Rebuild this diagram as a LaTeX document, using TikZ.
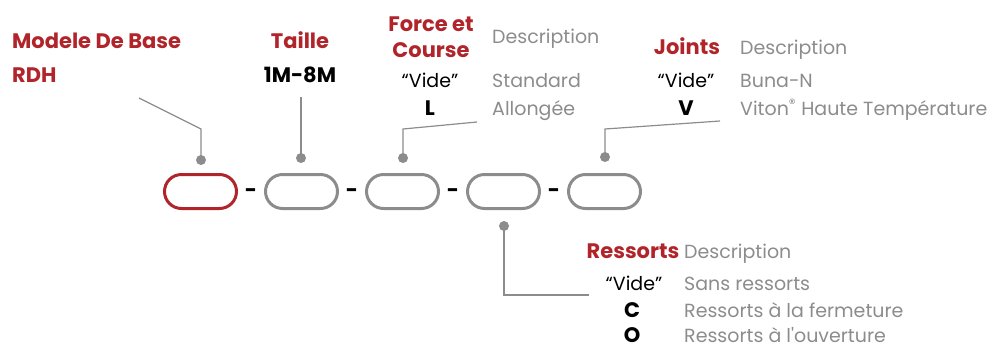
\documentclass[tikz,border=0pt]{standalone}
\usepackage{fontspec}
\setmainfont{Poppins}[Ligatures=TeXOff]
\usetikzlibrary{positioning, calc, shapes}
\definecolor{rouge}{HTML}{B0242A}
\definecolor{gris}{HTML}{8C8C8E}
\tikzset{
    pill/.style={draw=gris, line width=3pt, rounded corners=17pt, minimum width=72pt, minimum height=34pt, inner sep=0pt},
    titre/.style={text=rouge, font=\bfseries\fontsize{21}{26}\selectfont, inner sep=0pt, align=center},
    code/.style={font=\fontsize{19}{22}\selectfont, inner sep=0pt, anchor=base},
    codeb/.style={font=\bfseries\fontsize{21}{22}\selectfont, inner sep=0pt, anchor=base},
    desc/.style={text=gris, font=\fontsize{19}{22}\selectfont, inner sep=0pt, anchor=base west},
    point/.style={circle, fill=gris, inner sep=0pt, minimum size=10pt},
    trait/.style={gris, line width=1.2pt},
    tiret/.style={font=\bfseries\fontsize{21}{22}\selectfont, inner sep=0pt}
}
\begin{document}
\begin{tikzpicture}[x=1pt, y=-1pt]
    \useasboundingbox (0,0) rectangle (995,349);
    % les cases
    \node[pill, draw=rouge] (P1) at (200.5,191.5) {};
    \node[pill, right=26pt of P1] (P2) {};
    \node[pill, right=26pt of P2] (P3) {};
    \node[pill, right=26pt of P3] (P4) {};
    \node[pill, right=26pt of P4] (P5) {};
    \node[tiret] at ($(P1.east)!0.5!(P2.west)+(0,2)$) {-};
    \node[tiret] at ($(P2.east)!0.5!(P3.west)+(0,2)$) {-};
    \node[tiret] at ($(P3.east)!0.5!(P4.west)+(0,2)$) {-};
    \node[tiret] at ($(P4.east)!0.5!(P5.west)+(0,2)$) {-};
    % modele
    \node[titre, anchor=base west] (T1) at (12,48) {Modele De Base};
    \node[titre, anchor=base west] (R1) at (12,82) {RDH};
    % taille
    \node[titre, anchor=base] (T2) at (300,48) {Taille};
    \node[codeb] (R2) at (300,82) {1M-8M};
    % force et course
    \node[titre, anchor=base] (T3) at (431,31) {Force et};
    \node[titre, anchor=base] (T3b) at (431,57) {Course};
    \node[desc] (D3) at (492,43) {Description};
    \node[code] (V3) at (430,87) {“Vide”};
    \node[desc] (S3) at (492,87) {Standard};
    \node[codeb] (L3) at (430,115) {L};
    \node[desc] (A3) at (492,115) {Allongée};
    % joints
    \node[titre, anchor=base] (T5) at (687,54) {Joints};
    \node[desc] (D5) at (740,54) {Description};
    \node[code] (V5) at (686,87) {“Vide”};
    \node[desc] (B5) at (740,87) {Buna-N};
    \node[codeb] (L5) at (686,115) {V};
    \node[desc] (A5) at (740,115) {Viton\textsuperscript{®} Haute Température};
    % ressorts
    \node[titre, anchor=base] (T4) at (633,258) {Ressorts};
    \node[desc] (D4) at (684,258) {Description};
    \node[code] (V4) at (634,290) {“Vide”};
    \node[desc] (S4) at (684,290) {Sans ressorts};
    \node[codeb] (C4) at (632,317) {C};
    \node[desc] (F4) at (684,317) {Ressorts à la fermeture};
    \node[codeb] (O4) at (632,342) {O};
    \node[desc] (O4d) at (684,342) {Ressorts à l'ouverture};
    % reperes
    \node[point] (d1) at (201,160) {};
    \node[point] (d2) at (301,158) {};
    \node[point] (d3) at (403,158) {};
    \node[point] (d4) at (504,226) {};
    \node[point] (d5) at (605,157) {};
    \coordinate (c1) at (139,98);
    \coordinate (c2) at (301,97);
    \coordinate (c3) at (477,122);
    \coordinate (c4) at (589,295);
    \coordinate (c5) at (720,121);
    \draw[trait] (d1.center) -- ++(0,-31) -- (c1);
    \draw[trait] (d2.center) -- (c2);
    \draw[trait] (d3.center) -- ++(0,-29) -- (c3);
    \draw[trait] (d4.center) |- (c4);
    \draw[trait] (d5.center) -- ++(0,-28) -- (c5);
\end{tikzpicture}
\end{document}
